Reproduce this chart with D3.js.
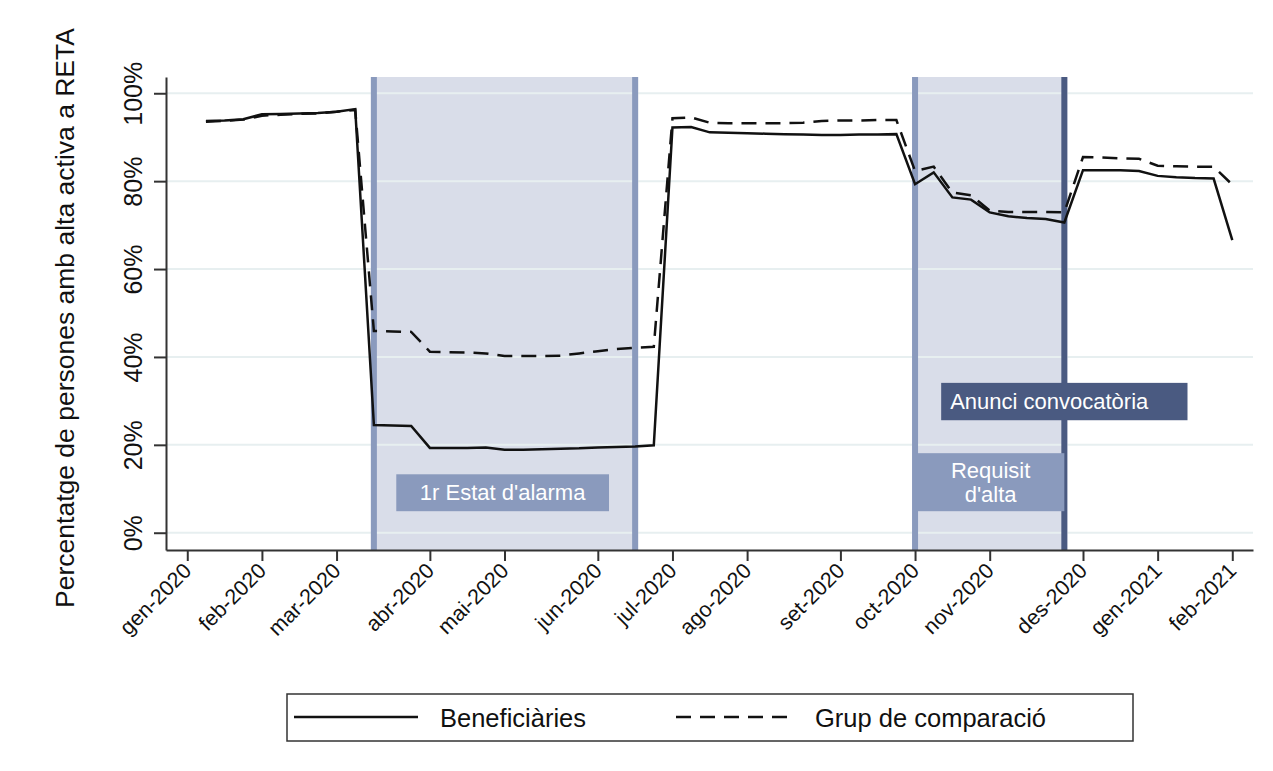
<!DOCTYPE html>
<html><head><meta charset="utf-8">
<script src="https://cdn.jsdelivr.net/npm/d3@7"></script>
<style>body{margin:0;background:#fff}svg{display:block}text{font-family:"Liberation Sans",Arial,sans-serif}</style>
</head><body>
<svg id="c" width="1273" height="771"></svg>
<script>
// weekly index (0 = start of gen-2020)
const weeks = d3.range(1, 57);
const beneficiaries = [93.7,93.8,94.1,95.2,95.3,95.4,95.5,95.8,96.4,24.5,24.4,24.3,19.3,19.3,19.3,19.4,18.9,18.9,19.0,19.1,19.2,19.4,19.5,19.6,19.9,92.2,92.3,91.1,91.0,90.9,90.8,90.7,90.6,90.5,90.5,90.6,90.6,90.7,79.3,82.0,76.3,75.8,72.9,72.0,71.6,71.4,70.6,82.5,82.5,82.5,82.3,81.2,80.9,80.7,80.6,66.6];
const comparison = [93.5,93.7,94.0,94.9,95.1,95.3,95.4,95.8,96.2,45.9,45.8,45.7,41.2,41.1,41.0,40.8,40.2,40.2,40.2,40.3,40.8,41.3,41.8,42.1,42.3,94.3,94.5,93.3,93.2,93.2,93.2,93.2,93.3,93.7,93.8,93.8,93.9,93.9,82.3,83.3,77.4,76.8,73.3,73.0,73.0,73.0,72.9,85.5,85.4,85.2,85.1,83.5,83.4,83.3,83.3,79.2];
const tickWeeks = [0,4,8,13,17,22,26,30,35,39,43,48,52,56];
const tickLabels = ["gen-2020","feb-2020","mar-2020","abr-2020","mai-2020","jun-2020","jul-2020","ago-2020","set-2020","oct-2020","nov-2020","des-2020","gen-2021","feb-2021"];
const yTicks = [0,20,40,60,80,100];
const periods = [{from:10,to:24,left:"light",right:"light"},{from:39,to:47,left:"light",right:"dark"}];
const boxes = [
  {x0:11.2,x1:22.6,y0:9.1-4.2,y1:9.1+4.2,lines:["1r Estat d'alarma"],kind:"light",anchor:"middle"},
  {x0:39.1,x1:47.0,y0:4.9,y1:18.1,lines:["Requisit","d'alta"],kind:"light",anchor:"middle"},
  {x0:40.4,x1:53.6,y0:25.6,y1:34.1,lines:["Anunci convocatòria"],kind:"dark",anchor:"start"}
];
const seriesNames = ["Beneficiàries","Grup de comparació"];
const yTitle = "Percentatge de persones amb alta activa a RETA";

const col = {fill:"#d9dde9", light:"#8a9abd", dark:"#4a5a81", grid:"#e7eff0", axis:"#333"};
const svg = d3.select("#c");
const L=166, R=1253, T=77, B=550;
const x = d3.scaleLinear().domain([-1.14, 57.11]).range([L, R]);
const y = d3.scaleLinear().domain([-3.93, 103.7]).range([B, T]);

// shaded periods
const pg = svg.append("g");
periods.forEach(p=>{
  pg.append("rect").attr("x",x(p.from)-3).attr("width",x(p.to)-x(p.from)+6).attr("y",T).attr("height",B-T).attr("fill",col.fill);
});
// gridlines
svg.append("g").selectAll("line").data(yTicks).join("line")
  .attr("x1",L).attr("x2",R).attr("y1",d=>y(d)).attr("y2",d=>y(d)).attr("stroke",col.grid).attr("stroke-width",2);
// period borders
periods.forEach(p=>{
  [[p.from,p.left],[p.to,p.right]].forEach(([w,k])=>{
    svg.append("rect").attr("x",x(w)-3).attr("width",6).attr("y",T).attr("height",B-T).attr("fill",col[k]);
  });
});
// annotation boxes
boxes.forEach(b=>{
  const g=svg.append("g");
  g.append("rect").attr("x",x(b.x0)).attr("width",x(b.x1)-x(b.x0)).attr("y",y(b.y1)).attr("height",y(b.y0)-y(b.y1)).attr("fill",col[b.kind]);
  const cy=(y(b.y0)+y(b.y1))/2, n=b.lines.length, lh=24;
  b.lines.forEach((t,i)=>{
    g.append("text").attr("x",b.anchor==="middle"?(x(b.x0)+x(b.x1))/2:x(b.x0)+9)
      .attr("y",cy+(i-(n-1)/2)*lh).attr("dy","0.35em").attr("text-anchor",b.anchor)
      .attr("fill","#fff").attr("font-size",22).text(t);
  });
});
// lines
const line = d3.line().x((d,i)=>x(weeks[i])).y(d=>y(d));
svg.append("path").datum(comparison).attr("d",line).attr("fill","none").attr("stroke","#111").attr("stroke-width",2.5).attr("stroke-dasharray","15,9");
svg.append("path").datum(beneficiaries).attr("d",line).attr("fill","none").attr("stroke","#111").attr("stroke-width",2.5);

// axes
const xa = svg.append("g").attr("transform",`translate(0,${B})`)
  .call(d3.axisBottom(x).tickValues(tickWeeks).tickFormat((d,i)=>tickLabels[i]).tickSize(11).tickSizeOuter(0));
xa.select(".domain").attr("stroke",col.axis).attr("stroke-width",2);
xa.selectAll(".tick line").attr("stroke",col.axis).attr("stroke-width",2);
xa.selectAll(".tick text").attr("font-size",21.5).attr("fill","#111").attr("text-anchor","end")
  .attr("dy",null).attr("y",null).attr("transform","translate(5,22) rotate(-45)");
const ya = svg.append("g").attr("transform",`translate(${L},0)`)
  .call(d3.axisLeft(y).tickValues(yTicks).tickFormat(d=>d+"%").tickSize(12).tickSizeOuter(0));
ya.select(".domain").attr("stroke",col.axis).attr("stroke-width",2);
ya.selectAll(".tick line").attr("stroke",col.axis).attr("stroke-width",2);
ya.selectAll(".tick text").attr("font-size",25).attr("fill","#111").attr("text-anchor","middle")
  .attr("x",null).attr("dy",null).attr("transform","translate(-24,0) rotate(-90)");
svg.append("text").attr("transform","translate(74,318) rotate(-90)").attr("text-anchor","middle")
  .attr("font-size",26.5).attr("fill","#111").text(yTitle);

// legend
const lg = svg.append("g");
lg.append("rect").attr("x",287).attr("y",694).attr("width",846).attr("height",47).attr("fill","#fff").attr("stroke","#333").attr("stroke-width",1.5);
lg.append("line").attr("x1",294).attr("x2",418).attr("y1",717).attr("y2",717).attr("stroke","#111").attr("stroke-width",2.5);
lg.append("line").attr("x1",676).attr("x2",795).attr("y1",717).attr("y2",717).attr("stroke","#111").attr("stroke-width",2.5).attr("stroke-dasharray","15,9");
lg.append("text").attr("x",440).attr("y",718).attr("dy","0.35em").attr("font-size",25.5).attr("fill","#111").text(seriesNames[0]);
lg.append("text").attr("x",815).attr("y",718).attr("dy","0.35em").attr("font-size",25.5).attr("fill","#111").text(seriesNames[1]);
</script>
</body></html>
